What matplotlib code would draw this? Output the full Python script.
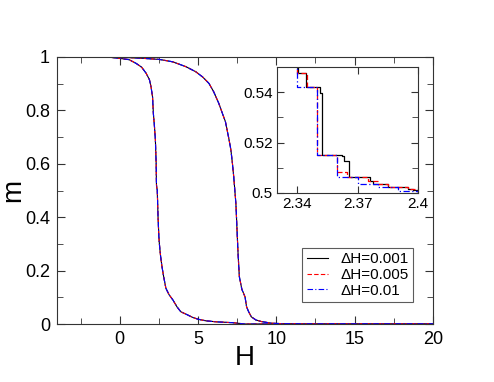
import matplotlib
matplotlib.use("Agg")
import matplotlib.pyplot as plt
from matplotlib.ticker import MultipleLocator

plt.rcParams['font.family'] = ['Liberation Sans', 'DejaVu Sans']

# Main curves (all three ΔH series coincide at this scale)
H_left = [-4, -0.8, 0, 0.6, 1.05, 1.4, 1.69, 1.9, 2.0, 2.1, 2.15, 2.22, 2.28,
          2.33, 2.34, 2.35, 2.4, 2.45, 2.5, 2.53, 2.6, 2.7, 2.8, 2.95, 3.15,
          3.4, 3.65, 3.9, 4.3, 4.65, 5.0, 5.5, 6.2, 7.2, 8.0, 20]
m_left = [1, 1, 0.995, 0.99, 0.976, 0.962, 0.939, 0.915, 0.889, 0.85, 0.789,
          0.74, 0.689, 0.6, 0.55, 0.52, 0.5, 0.4, 0.33, 0.303, 0.26, 0.215,
          0.18, 0.134, 0.11, 0.09, 0.065, 0.046, 0.035, 0.025, 0.018, 0.012,
          0.008, 0.005, 0.0, 0]
H_right = [-4, -1.0, 0.5, 1.5, 2.53, 3.38, 4.22, 4.85, 5.3, 5.7, 6.0, 6.33,
           6.55, 6.75, 6.95, 7.1, 7.2, 7.28, 7.42, 7.5, 7.56, 7.64, 7.8, 8.0,
           8.1, 8.2, 8.4, 8.7, 9.06, 9.7, 10.5, 11.5, 20]
m_right = [1, 1, 0.998, 0.995, 0.991, 0.982, 0.964, 0.945, 0.925, 0.901,
           0.87, 0.826, 0.79, 0.758, 0.7, 0.652, 0.6, 0.552, 0.45, 0.34, 0.26,
           0.177, 0.13, 0.102, 0.065, 0.05, 0.027, 0.015, 0.009, 0.003, 0.001,
           0, 0]

# Inset (zoom near m = 0.5 on the left branch), step data
H_inset_001 = [2.33, 2.3403, 2.3446, 2.3512, 2.3524, 2.3623, 2.3634, 2.3656,
               2.3763, 2.3779, 2.3853, 2.3952, 2.3977, 2.4]
m_inset_001 = [0.56, 0.5476, 0.5419, 0.5395, 0.5152, 0.5145, 0.5127, 0.5063,
               0.5047, 0.5036, 0.5025, 0.5016, 0.5010, 0.5003]
H_inset_005 = [2.335, 2.34, 2.345, 2.35, 2.355, 2.36, 2.365, 2.37, 2.375,
               2.38, 2.385, 2.39, 2.395, 2.4]
m_inset_005 = [0.56, 0.5476, 0.5419, 0.5152, 0.5150, 0.5083, 0.5063, 0.5063,
               0.5047, 0.5036, 0.5025, 0.5025, 0.5016, 0.5005]
H_inset_01 = [2.33, 2.34, 2.35, 2.36, 2.37, 2.38, 2.39, 2.4]
m_inset_01 = [0.56, 0.5419, 0.5152, 0.5063, 0.5036, 0.5023, 0.5009, 0.5003]

labels = ["ΔH=0.001", "ΔH=0.005", "ΔH=0.01"]
colors = ["black", "red", "blue"]
styles = ["-", (0, (4, 2)), (0, (5, 2, 1, 2))]

spine_col = "#333333"

fig = plt.figure(figsize=(4.94, 3.82), dpi=100)
ax = fig.add_axes([0.1154, 0.1518, 0.7611, 0.699])

for lab, c, ls in zip(labels, colors, styles):
    ax.plot(H_left, m_left, color=c, ls=ls, lw=0.8, label=lab)
    ax.plot(H_right, m_right, color=c, ls=ls, lw=0.8)

ax.set_xlim(-4, 20)
ax.set_ylim(0, 1)
ax.xaxis.set_major_locator(MultipleLocator(5))
ax.xaxis.set_minor_locator(MultipleLocator(2.5))
ax.yaxis.set_minor_locator(MultipleLocator(0.1))
ax.set_yticks([0, 0.2, 0.4, 0.6, 0.8, 1.0])
ax.set_yticklabels(["0", "0.2", "0.4", "0.6", "0.8", "1"])
ax.tick_params(which="both", direction="in", top=True, right=True,
               labelsize=13, color=spine_col, pad=5)
ax.tick_params(which="major", length=6)
ax.tick_params(which="minor", length=4)
for s in ax.spines.values():
    s.set_color(spine_col)
ax.set_xlabel("H", fontsize=20, labelpad=-2)
ax.set_ylabel("m", fontsize=20, labelpad=-1)

leg = ax.legend(loc="lower right", bbox_to_anchor=(0.947, 0.082),
                fontsize=11, frameon=True, fancybox=False, handlelength=1.4,
                handletextpad=0.8, borderpad=0.3, labelspacing=0.1,
                borderaxespad=0)
leg.get_frame().set_edgecolor(spine_col)
leg.get_frame().set_linewidth(0.8)

axi = fig.add_axes([0.5607, 0.4948, 0.2854, 0.3298])
inset_data = [(H_inset_001, m_inset_001), (H_inset_005, m_inset_005),
              (H_inset_01, m_inset_01)]
for (hx, my), c, ls in zip(inset_data, colors, styles):
    axi.plot(hx, my, color=c, ls=ls, lw=0.9, drawstyle="steps-post")
axi.set_xlim(2.33, 2.4)
axi.set_ylim(0.5, 0.55)
axi.set_xticks([2.34, 2.37, 2.4])
axi.set_xticklabels(["2.34", "2.37", "2.4"])
axi.set_yticks([0.5, 0.52, 0.54])
axi.set_yticklabels(["0.5", "0.52", "0.54"])
axi.yaxis.set_minor_locator(MultipleLocator(0.01))
axi.tick_params(which="both", direction="in", top=True, right=True,
                labelsize=11, color=spine_col, pad=3)
axi.tick_params(which="major", length=5)
axi.tick_params(which="minor", length=4)
for s in axi.spines.values():
    s.set_color(spine_col)

fig.savefig("out.png", dpi=100)
